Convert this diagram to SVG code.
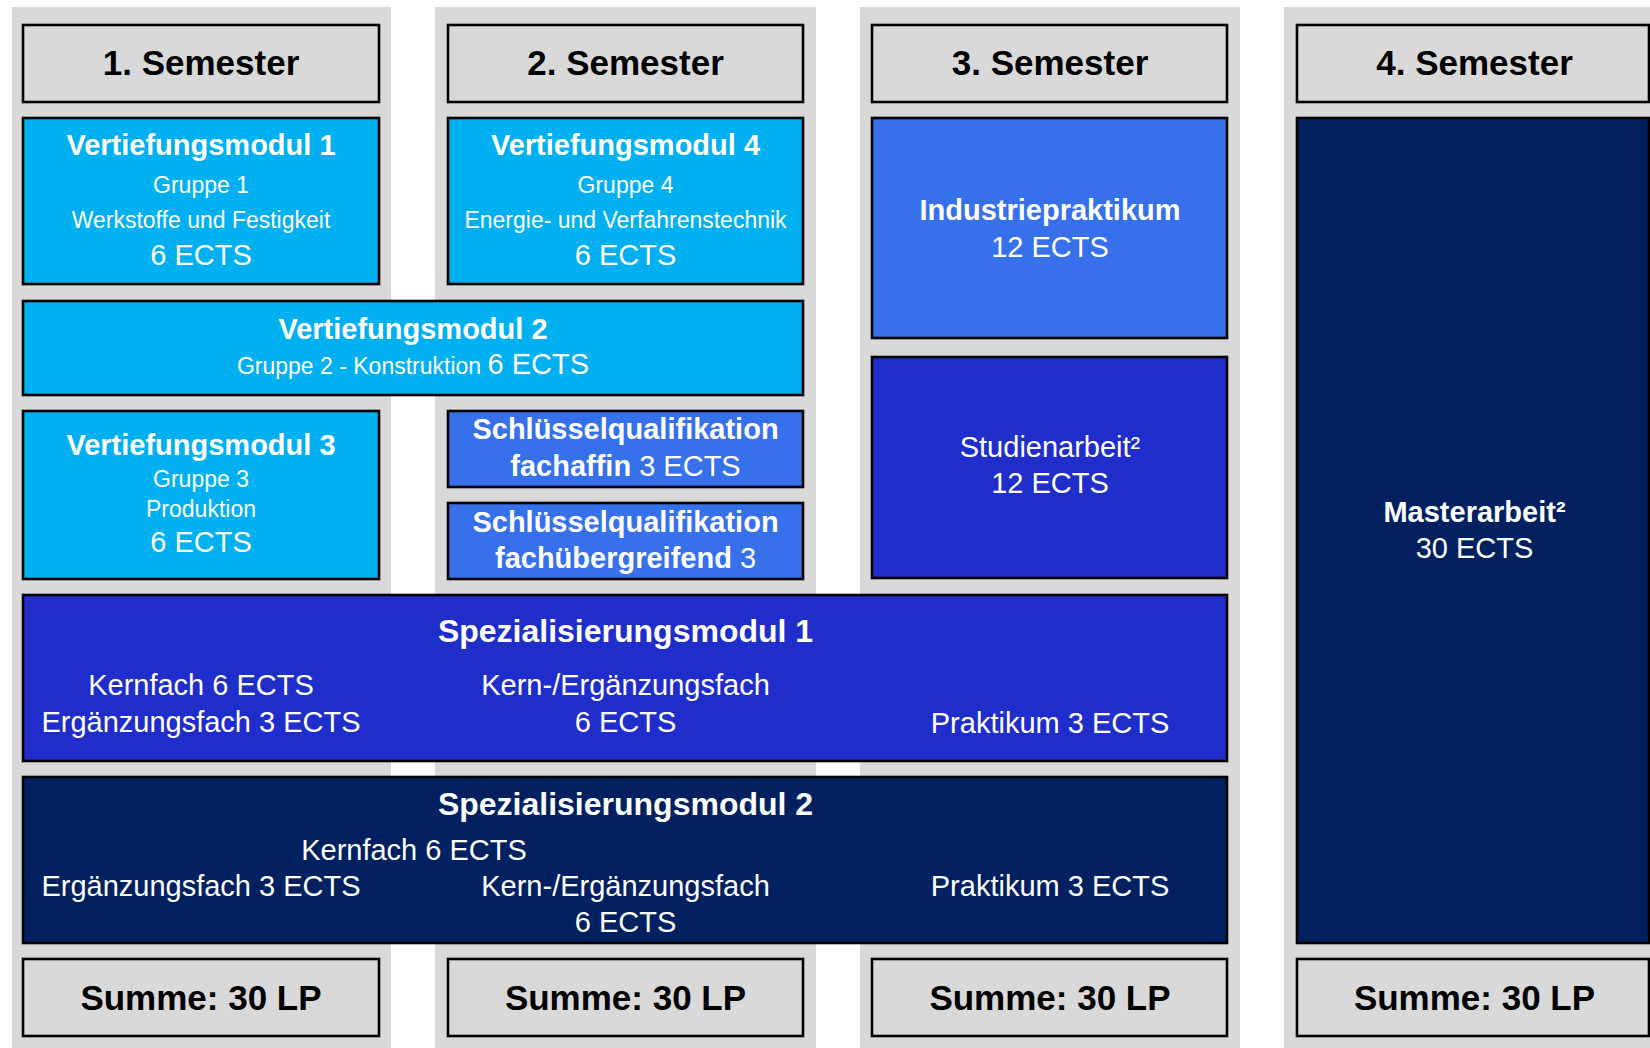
<svg xmlns="http://www.w3.org/2000/svg" width="1650" height="1048" viewBox="0 0 1650 1048">
<defs>
<style>
.col{fill:#d9d9d9}
.box{stroke:#000;stroke-width:2.6}
.hd{fill:#d9d9d9}
.cy{fill:#00b0f0}
.mb{fill:#3670eb}
.db{fill:#1f2dca}
.nv{fill:#002060}
text{font-family:"Liberation Sans",Arial,sans-serif;text-anchor:middle;fill:#fff}
.h{font-size:35px;font-weight:bold;fill:#000}
.t{font-size:29px;font-weight:bold}
.st{font-size:32px;font-weight:bold}
.r{font-size:29px}
.s{font-size:23px}
</style>
</defs>
<rect width="1650" height="1048" fill="#fff"/>
<g id="columns">
<rect class="col" x="12" y="7" width="379" height="1041"/>
<rect class="col" x="435" y="7" width="381" height="1041"/>
<rect class="col" x="860" y="7" width="380" height="1041"/>
<rect class="col" x="1284" y="7" width="366" height="1041"/>
</g>
<g id="connectors"></g>
<g id="sem1"><rect class="box hd" x="23" y="25" width="356" height="77"/><text class="h" x="201" y="75">1. Semester</text></g>
<g id="sem2"><rect class="box hd" x="448" y="25" width="355" height="77"/><text class="h" x="625.5" y="75">2. Semester</text></g>
<g id="sem3"><rect class="box hd" x="872" y="25" width="355" height="77"/><text class="h" x="1050" y="75">3. Semester</text></g>
<g id="sem4"><rect class="box hd" x="1297" y="25" width="352" height="77"/><text class="h" x="1474.5" y="75">4. Semester</text></g>

<g id="vm1"><rect class="box cy" x="23" y="118" width="356" height="166"/>
<text class="t" x="201" y="155">Vertiefungsmodul 1</text>
<text class="s" x="201" y="193">Gruppe 1</text>
<text class="s" x="201" y="228">Werkstoffe und Festigkeit</text>
<text class="r" x="201" y="265">6 ECTS</text></g>

<g id="vm4"><rect class="box cy" x="448" y="118" width="355" height="166"/>
<text class="t" x="625.5" y="155">Vertiefungsmodul 4</text>
<text class="s" x="625.5" y="193">Gruppe 4</text>
<text class="s" x="625.5" y="228">Energie- und Verfahrenstechnik</text>
<text class="r" x="625.5" y="265">6 ECTS</text></g>

<g id="industriepraktikum"><rect class="box mb" x="872" y="118" width="355" height="220"/>
<text class="t" x="1050" y="220">Industriepraktikum</text>
<text class="r" x="1050" y="256.5">12 ECTS</text></g>

<g id="vm2"><rect class="box cy" x="23" y="301" width="780" height="94"/>
<text class="t" x="413" y="339">Vertiefungsmodul 2</text>
<text x="413" y="374"><tspan class="s">Gruppe 2 - Konstruktion </tspan><tspan class="r">6 ECTS</tspan></text></g>

<g id="vm3"><rect class="box cy" x="23" y="411" width="356" height="168"/>
<text class="t" x="201" y="455">Vertiefungsmodul 3</text>
<text class="s" x="201" y="487">Gruppe 3</text>
<text class="s" x="201" y="517">Produktion</text>
<text class="r" x="201" y="552">6 ECTS</text></g>

<g id="sq1"><rect class="box mb" x="448" y="411" width="355" height="76"/>
<text x="625.5" y="439" class="t">Schlüsselqualifikation</text>
<text x="625.5" y="476"><tspan class="t">fachaffin</tspan><tspan class="r"> 3 ECTS</tspan></text></g>

<g id="sq2"><rect class="box mb" x="448" y="503" width="355" height="76"/>
<text x="625.5" y="531.5" class="t">Schlüsselqualifikation</text>
<text x="625.5" y="568"><tspan class="t">fachübergreifend</tspan><tspan class="r"> 3</tspan></text></g>

<g id="studienarbeit"><rect class="box db" x="872" y="357" width="355" height="221"/>
<text class="r" x="1050" y="457">Studienarbeit²</text>
<text class="r" x="1050" y="493">12 ECTS</text></g>

<g id="masterarbeit"><rect class="box nv" x="1297" y="118" width="352" height="825"/>
<text class="t" x="1474.5" y="521.5">Masterarbeit²</text>
<text class="r" x="1474.5" y="558">30 ECTS</text></g>

<g id="spez1"><rect class="box db" x="23" y="595" width="1204" height="166"/>
<text class="st" x="625.5" y="641.5">Spezialisierungsmodul 1</text>
<text class="r" x="201" y="695">Kernfach 6 ECTS</text>
<text class="r" x="201" y="731.5">Ergänzungsfach 3 ECTS</text>
<text class="r" x="625.5" y="695">Kern-/Ergänzungsfach</text>
<text class="r" x="625.5" y="731.5">6 ECTS</text>
<text class="r" x="1050" y="732.5">Praktikum 3 ECTS</text></g>

<g id="spez2"><rect class="box nv" x="23" y="777" width="1204" height="166"/>
<text class="st" x="625.5" y="815">Spezialisierungsmodul 2</text>
<text class="r" x="414" y="860">Kernfach 6 ECTS</text>
<text class="r" x="201" y="896">Ergänzungsfach 3 ECTS</text>
<text class="r" x="625.5" y="896">Kern-/Ergänzungsfach</text>
<text class="r" x="625.5" y="931.5">6 ECTS</text>
<text class="r" x="1050" y="896">Praktikum 3 ECTS</text></g>

<g id="sum1"><rect class="box hd" x="23" y="959" width="356" height="77"/><text class="h" x="201" y="1010">Summe: 30 LP</text></g>
<g id="sum2"><rect class="box hd" x="448" y="959" width="355" height="77"/><text class="h" x="625.5" y="1010">Summe: 30 LP</text></g>
<g id="sum3"><rect class="box hd" x="872" y="959" width="355" height="77"/><text class="h" x="1050" y="1010">Summe: 30 LP</text></g>
<g id="sum4"><rect class="box hd" x="1297" y="959" width="352" height="77"/><text class="h" x="1474.5" y="1010">Summe: 30 LP</text></g>
</svg>
